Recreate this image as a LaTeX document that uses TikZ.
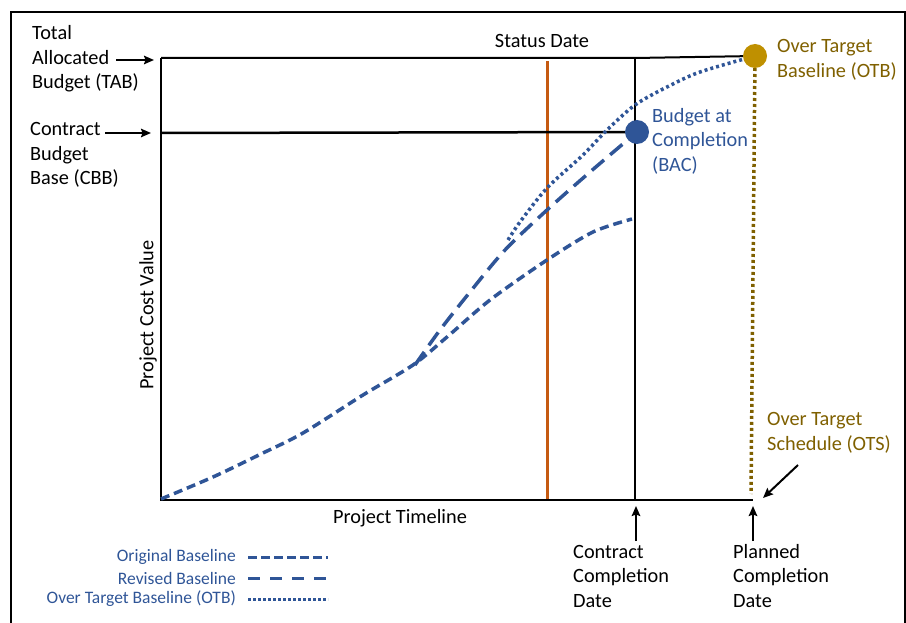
\documentclass[tikz,border=0pt]{standalone}
\usepackage{fontspec}
\setmainfont{Carlito}
\usepackage{xcolor}
\usetikzlibrary{positioning,arrows.meta}
\definecolor{baseblue}{HTML}{2F5597}
\definecolor{otbgold}{HTML}{BF9000}
\definecolor{otbtext}{HTML}{7F6000}
\definecolor{statusorange}{HTML}{C55A11}

\begin{document}
\begin{tikzpicture}[x=1pt,y=-1pt,>={Stealth[length=10pt,width=8.5pt,inset=1.5pt]},
		lbl/.style={font=\fontsize{20.3}{24.5}\selectfont,align=left,anchor=west,inner sep=0pt},
		leg/.style={font=\fontsize{17.5}{21}\selectfont,text=baseblue,anchor=east,inner sep=0pt},
		origline/.style={baseblue,line width=3.5pt,dash pattern=on 9pt off 5pt},
		revline/.style={baseblue,line width=3.5pt,dash pattern=on 16pt off 8pt},
		otbline/.style={baseblue,line width=3.5pt,dash pattern=on 3pt off 3pt},
		axis/.style={line width=2.5pt},
		pointer/.style={->,line width=2pt},
		marker/.style={circle,minimum size=24pt,inner sep=0pt}]
		\useasboundingbox (0,0) rectangle (906,623);
		\draw[line width=1.5pt] (11,623) -- (11,12) -- (905,12) -- (905,623);

		% chart corners
		\coordinate (orig) at (161,500);
		\coordinate (tabend) at (161,58);
		\coordinate (cbbend) at (161,133);
		\coordinate (ccdtop) at (635,58);
		\coordinate (ccdbot) at (635,500);
		\coordinate (axisend) at (753,500);
		\coordinate (statustop) at (547,61);
		\coordinate (statusbot) at (547,500);
		\coordinate (bacpt) at (637,132);
		\coordinate (otbpt) at (755,56);
		\coordinate (otsbot) at (751,494);

		\draw[statusorange,line width=3pt] (statustop) -- (statusbot);
		\draw[line width=1.5pt] (ccdtop) -- (ccdbot);
		\draw[line width=2pt] (tabend) -- (ccdtop) -- (otbpt);
		\draw[axis] (cbbend) -- (bacpt);
		\draw[axis] (tabend) -- (orig) -- (axisend);

		% baselines
		\draw[origline] plot[smooth,tension=0.5] coordinates {(161,499) (213,477) (263,453) (303,433) (363,395) (413,365) (447,337) (490,300) (547,260) (593,232) (632,219)};
		\draw[revline] plot[smooth,tension=0.5] coordinates {(415,365) (440,330) (470,292) (505,250) (547,210) (590,172) (bacpt)};
		\draw[otbline] plot[smooth,tension=0.5] coordinates {(508,240) (520,222) (547,188) (583,155) (607,130) (635,105) (667,87) (700,72) (otbpt)};
		\draw[otbtext,line width=3.5pt,dash pattern=on 3pt off 3pt] (otbpt) -- (otsbot);

		\node[marker,fill=baseblue] (bac) at (bacpt) {};
		\node[marker,fill=otbgold] (otb) at (otbpt) {};

		% labels
		\node[lbl] (tab) at (32,59) {Total\\Allocated\\Budget (TAB)};
		\node[lbl] (cbb) at (30,155) {Contract\\Budget\\Base (CBB)};
		\node[lbl,anchor=center] (status) at (542,41) {Status Date};
		\node[lbl,text=otbtext] (otblbl) at (777,60) {Over Target\\Baseline (OTB)};
		\node[lbl,text=baseblue] (baclbl) at (652,141) {Budget at\\Completion\\(BAC)};
		\node[lbl,text=otbtext] (otslbl) at (767,433) {Over Target\\Schedule (OTS)};
		\node[lbl] (ccd) at (573,576) {Contract\\Completion\\Date};
		\node[lbl] (pcd) at (733,576) {Planned\\Completion\\Date};
		\node[lbl,anchor=center] (timeline) at (400,518) {Project Timeline};
		\node[lbl,anchor=center,rotate=90] (costval) at (148,315) {Project Cost Value};

		% pointers
		\coordinate (tabtail) at (116,60);
		\coordinate (tabhead) at (154,60);
		\coordinate (cbbtail) at (105,133);
		\coordinate (cbbhead) at (151,133);
		\coordinate (ccdtail) at (636,541);
		\coordinate (ccdhead) at (636,506);
		\coordinate (pcdtail) at (753,541);
		\coordinate (pcdhead) at (753,506);
		\coordinate (otstail) at (798,465);
		\coordinate (otshead) at (763,498);
		\draw[pointer] (tabtail) -- (tabhead);
		\draw[pointer] (cbbtail) -- (cbbhead);
		\draw[pointer] (ccdtail) -- (ccdhead);
		\draw[pointer] (pcdtail) -- (pcdhead);
		\draw[pointer] (otstail) -- (otshead);

		% legend
		\node[leg] (legorig) at (236,557) {Original Baseline};
		\node[leg] (legrev) at (236,578) {Revised Baseline};
		\node[leg] (legotb) at (236,599) {Over Target Baseline (OTB)};
		\draw[baseblue,line width=3pt,dash pattern=on 9pt off 4pt] ([xshift=12pt]legorig.east) -- ++(80,0);
		\draw[baseblue,line width=3pt,dash pattern=on 12pt off 10pt] ([xshift=12pt]legrev.east) -- ++(80,0);
		\draw[baseblue,line width=3pt,dash pattern=on 2.5pt off 2.5pt] ([xshift=12pt]legotb.east) -- ++(80,0);
\end{tikzpicture}
\end{document}
